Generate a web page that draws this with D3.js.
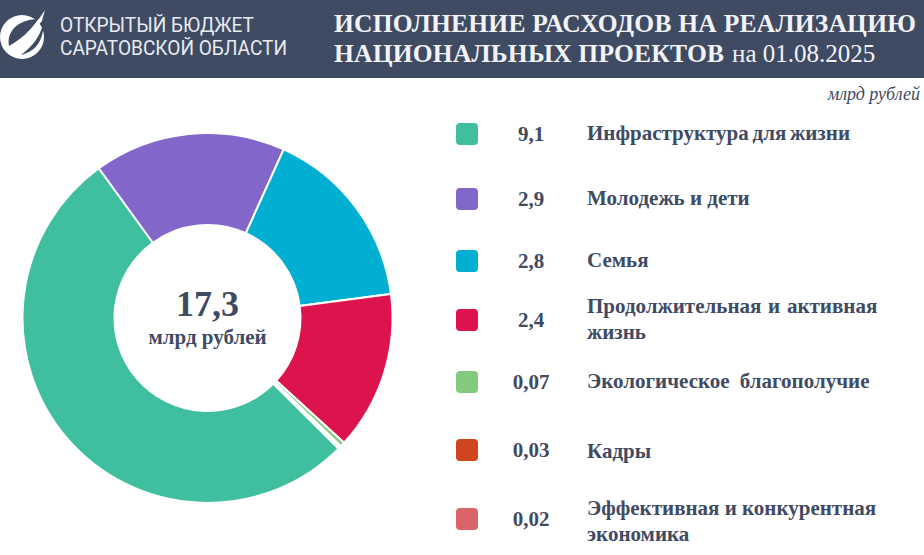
<!DOCTYPE html>
<html lang="ru">
  <head>
    <meta charset="UTF-8" />
    <title>Исполнение расходов</title>
    <style>
      html, body { margin: 0; padding: 0; background: #fff; overflow: hidden; }
      text { font-family: "Liberation Serif", serif; fill: #3f4a63; }
    </style>
  </head>
  <body>
    <svg id="svg" width="924" height="555"></svg>

    <script src="https://d3js.org/d3.v7.min.js"></script>
    <script>
      const categories = [
        ["Инфраструктура для жизни"],
        ["Молодежь и дети"],
        ["Семья"],
        ["Продолжительная и активная", "жизнь"],
        ["Экологическое благополучие"],
        ["Кадры"],
        ["Эффективная и конкурентная", "экономика"],
      ];
      const values = [9.1, 2.9, 2.8, 2.4, 0.07, 0.03, 0.02];
      const valueLabels = ["9,1", "2,9", "2,8", "2,4", "0,07", "0,03", "0,02"];
      const colors = ["#3fbf9f", "#8266c9", "#00afd1", "#dc134c", "#85c97f", "#cf451f", "#db6468"];

      // legend layout, row by row
      const legendY = [134, 199, 261, 320, 382, 450, 519];
      const labelY = [[140], [205], [267], [313, 339], [388], [458], [515, 541]];
      const wordGap = [-1.5, 0, 0, 1.5, 5, 0, 0];

      const svg = d3.select("#svg");

      // header
      svg.append("rect").attr("width", 924).attr("height", 78).attr("fill", "#3f4a63");

      // logo, drawn by hand
      const logo = svg.append("g");
      logo.append("circle").attr("cx", 22).attr("cy", 37).attr("r", 22).attr("fill", "#fff");
      logo.append("path").attr("fill", "#3f4a63")
        .attr("d", "M9 46 C6 30 20 19 39 19 C31 30 20 40 9 46 Z");
      logo.append("path").attr("fill", "#fff")
        .attr("d", "M45 10 C37 22 26 36 12 48 C20 50 26 44 32 37 C37 30 42 20 45 10 Z");
      logo.append("path").attr("fill", "#3f4a63")
        .attr("d", "M43 24 C40 36 33 46 21 55 C28 53 34 50 38 44 C42 38 44 30 43 24 Z");
      logo.append("path").attr("fill", "#3f4a63")
        .attr("d", "M36 16 L46 8 L46 26 C44 24 40 20 36 16 Z");
      logo.append("path").attr("fill", "#fff")
        .attr("d", "M45 10 C41 16 37 22 32 28 C36 25 40 24 42 21 C43 17 44 13 45 10 Z");

      svg.append("text").attr("x", 60).attr("y", 32)
        .style("font-family", "Roboto").style("fill", "#e9ebf0")
        .attr("font-size", 20.5)
        .attr("textLength", 194).attr("lengthAdjust", "spacingAndGlyphs")
        .text("ОТКРЫТЫЙ БЮДЖЕТ");
      svg.append("text").attr("x", 60).attr("y", 55)
        .style("font-family", "Roboto").style("fill", "#e9ebf0")
        .attr("font-size", 20.5)
        .attr("textLength", 227).attr("lengthAdjust", "spacingAndGlyphs")
        .text("САРАТОВСКОЙ ОБЛАСТИ");

      svg.append("text").attr("x", 334).attr("y", 32)
        .style("fill", "#f2f3f6").attr("font-weight", "bold").attr("font-size", 25.5)
        .attr("textLength", 582).attr("lengthAdjust", "spacing")
        .text("ИСПОЛНЕНИЕ РАСХОДОВ НА РЕАЛИЗАЦИЮ");
      svg.append("text").attr("x", 334).attr("y", 62)
        .style("fill", "#f2f3f6").attr("font-weight", "bold").attr("font-size", 25.5)
        .attr("textLength", 390).attr("lengthAdjust", "spacing")
        .text("НАЦИОНАЛЬНЫХ ПРОЕКТОВ");
      svg.append("text").attr("x", 732).attr("y", 62)
        .style("fill", "#f2f3f6").attr("font-size", 25)
        .text("на 01.08.2025");

      svg.append("text").attr("x", 920).attr("y", 100)
        .attr("text-anchor", "end").attr("font-style", "italic")
        .attr("font-size", 18).text("млрд рублей");

      // donut
      const pie = d3.pie().sort(null)
        .startAngle(134.9 * Math.PI / 180)
        .endAngle((134.9 + 360) * Math.PI / 180);
      const arc = d3.arc().innerRadius(93).outerRadius(185);

      const donut = svg.append("g").attr("transform", "translate(207.5,318)");
      donut.selectAll("path")
        .data(pie(values))
        .enter()
        .append("path")
        .attr("d", arc)
        .attr("fill", (d, i) => colors[i])
        .attr("stroke", "#fff")
        .attr("stroke-width", 2);

      donut.append("text").attr("text-anchor", "middle").attr("y", -2)
        .attr("font-weight", "bold").attr("font-size", 36).text("17,3");
      donut.append("text").attr("text-anchor", "middle").attr("y", 26)
        .attr("font-weight", "bold").attr("font-size", 21).text("млрд рублей");

      // legend
      const legend = svg.selectAll(".legend")
        .data(categories)
        .enter()
        .append("g")
        .attr("class", "legend");

      legend.append("rect")
        .attr("x", 456)
        .attr("y", (d, i) => legendY[i] - 11)
        .attr("width", 22).attr("height", 22).attr("rx", 4)
        .attr("fill", (d, i) => colors[i]);

      legend.append("text")
        .attr("x", 531)
        .attr("y", (d, i) => legendY[i] + 7)
        .attr("text-anchor", "middle")
        .attr("font-weight", "bold").attr("font-size", 21)
        .text((d, i) => valueLabels[i]);

      legend.each(function (lines, i) {
        const g = d3.select(this);
        lines.forEach((line, j) => {
          g.append("text")
            .attr("x", 587)
            .attr("y", labelY[i][j])
            .attr("font-weight", "bold").attr("font-size", 21)
            .attr("word-spacing", wordGap[i])
            .text(line);
        });
      });
    </script>
  </body>
</html>
